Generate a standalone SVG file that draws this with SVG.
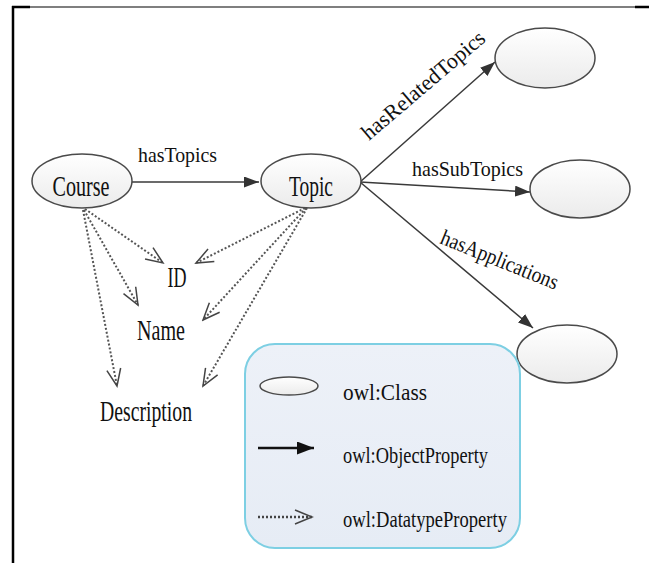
<svg xmlns="http://www.w3.org/2000/svg" width="649" height="563" viewBox="0 0 649 563">
<style>
.lbl{font-family:"Liberation Serif","Times New Roman",serif;fill:#111;}
.node{font-size:29px;}
.edge{font-size:22px;}
.leg{font-size:24px;}
.cls{fill:url(#gEll);stroke:#4a4a4a;stroke-width:1.5;}
.obj{stroke:#3a3a3a;stroke-width:1.5;fill:none;marker-end:url(#aSolid);}
.dt{stroke:#555;stroke-width:2;stroke-dasharray:2 2;fill:none;marker-end:url(#aOpen);}
</style>
<defs>
<linearGradient id="gEll" x1="0" y1="0" x2="0" y2="1">
<stop offset="0" stop-color="#ffffff"/>
<stop offset="1" stop-color="#ebebeb"/>
</linearGradient>
<linearGradient id="gLeg" x1="0" y1="0" x2="0" y2="1">
<stop offset="0" stop-color="#edf1f8"/>
<stop offset="1" stop-color="#e6ecf5"/>
</linearGradient>
<marker id="aSolid" markerUnits="userSpaceOnUse" markerWidth="15" markerHeight="11" refX="15" refY="5.5" orient="auto">
<path d="M0,0 L15,5.5 L0,11 z" fill="#333"/>
</marker>
<marker id="aOpen" markerUnits="userSpaceOnUse" markerWidth="20" markerHeight="16" refX="18" refY="8" orient="auto">
<path d="M1,1 L18,8 L1,15" fill="none" stroke="#444" stroke-width="1.5"/>
</marker>
<marker id="aLegSolid" markerUnits="userSpaceOnUse" markerWidth="17" markerHeight="13" refX="17" refY="6.5" orient="auto">
<path d="M0,0 L17,6.5 L0,13 z" fill="#111"/>
</marker>
</defs>

<g id="frame" stroke="#000" fill="none">
<line x1="13" y1="6" x2="13" y2="563" stroke-width="2.5"/>
<line x1="12" y1="7" x2="640" y2="7" stroke-width="1.2"/>
<line x1="12" y1="7" x2="30" y2="7" stroke-width="2.5"/>
<line x1="635" y1="7" x2="649" y2="7" stroke-width="2.5"/>
</g>

<g id="connectors">
<line class="obj" x1="132" y1="182" x2="259" y2="182"/>
<line class="obj" x1="360" y1="182" x2="495" y2="62"/>
<line class="obj" x1="360" y1="182" x2="530" y2="192"/>
<line class="obj" x1="360" y1="182" x2="533" y2="328"/>
<line class="dt" x1="85" y1="209" x2="163" y2="263"/>
<line class="dt" x1="84" y1="210" x2="138" y2="305"/>
<line class="dt" x1="83" y1="210" x2="117" y2="386"/>
<line class="dt" x1="305" y1="208" x2="196" y2="263"/>
<line class="dt" x1="306" y1="208" x2="203" y2="320"/>
<line class="dt" x1="307" y1="208" x2="203" y2="386"/>
<text class="lbl edge" x="138" y="162" textLength="79" lengthAdjust="spacingAndGlyphs">hasTopics</text>
<text class="lbl edge" transform="translate(369,141) rotate(-40.5)" textLength="155" lengthAdjust="spacingAndGlyphs">hasRelatedTopics</text>
<text class="lbl edge" x="412" y="176" textLength="111" lengthAdjust="spacingAndGlyphs">hasSubTopics</text>
<text class="lbl edge" transform="translate(439,243) rotate(22)" textLength="125" lengthAdjust="spacingAndGlyphs">hasApplications</text>
</g>

<g id="course">
<ellipse class="cls" cx="82" cy="181" rx="50" ry="27"/>
<text class="lbl node" x="81" y="196" text-anchor="middle" textLength="57" lengthAdjust="spacingAndGlyphs">Course</text>
</g>
<g id="topic">
<ellipse class="cls" cx="311" cy="181" rx="50" ry="27"/>
<text class="lbl node" x="311" y="196" text-anchor="middle" textLength="44" lengthAdjust="spacingAndGlyphs">Topic</text>
</g>
<g id="related">
<ellipse class="cls" cx="545" cy="58" rx="50" ry="30"/>
</g>
<g id="subtopic">
<ellipse class="cls" cx="580" cy="189" rx="50" ry="29"/>
</g>
<g id="application">
<ellipse class="cls" cx="567" cy="354" rx="50" ry="29"/>
</g>
<g id="id">
<text class="lbl node" x="177" y="287" text-anchor="middle" textLength="19" lengthAdjust="spacingAndGlyphs">ID</text>
</g>
<g id="name">
<text class="lbl node" x="161" y="340" text-anchor="middle" textLength="48" lengthAdjust="spacingAndGlyphs">Name</text>
</g>
<g id="description">
<text class="lbl node" x="146" y="421" text-anchor="middle" textLength="92" lengthAdjust="spacingAndGlyphs">Description</text>
</g>

<g id="legend">
<rect x="245" y="344" width="275" height="204" rx="30" ry="30" fill="url(#gLeg)" stroke="#7dcfe3" stroke-width="2"/>
<ellipse class="cls" cx="289" cy="386" rx="29" ry="9"/>
<line x1="258" y1="448" x2="314" y2="448" stroke="#111" stroke-width="2.5" marker-end="url(#aLegSolid)"/>
<line x1="258" y1="517" x2="312" y2="517" stroke="#444" stroke-width="2.5" stroke-dasharray="2 2" marker-end="url(#aOpen)"/>
<text class="lbl leg" x="343" y="400" textLength="84" lengthAdjust="spacingAndGlyphs">owl:Class</text>
<text class="lbl leg" x="343" y="463" textLength="145" lengthAdjust="spacingAndGlyphs">owl:ObjectProperty</text>
<text class="lbl leg" x="343" y="527" textLength="164" lengthAdjust="spacingAndGlyphs">owl:DatatypeProperty</text>
</g>
</svg>
